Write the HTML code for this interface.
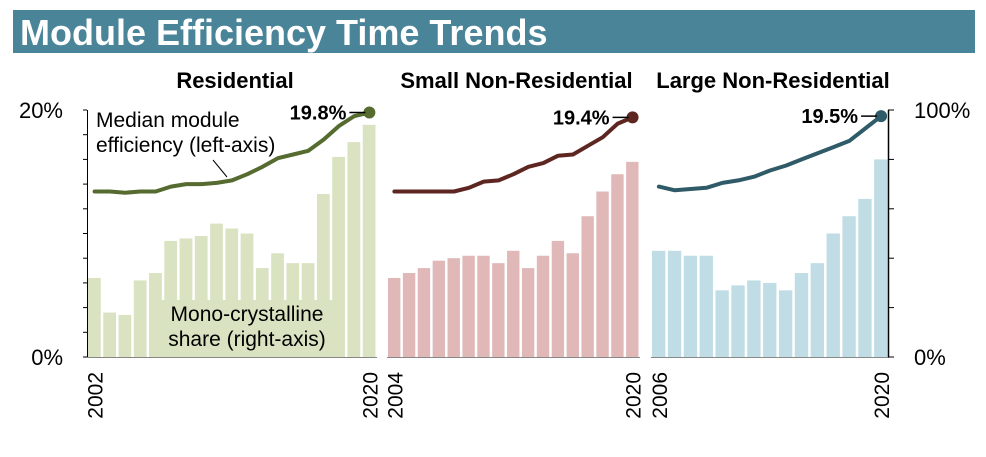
<!DOCTYPE html>
<html><head><meta charset="utf-8"><style>
body{margin:0;width:986px;height:452px;background:#fff;overflow:hidden;font-family:"Liberation Sans",Arial,sans-serif}
</style></head><body>
<svg width="986" height="452" xmlns="http://www.w3.org/2000/svg">
<rect x="13" y="10" width="962" height="43" fill="#4a8499"/>
<text x="20" y="45" font-size="36" font-weight="bold" fill="#fff" font-family="Liberation Sans, sans-serif">Module Efficiency Time Trends</text>
<g id="g"></g>
</svg>
<script>
const resYears=[2002,2020], smYears=[2004,2020], lgYears=[2006,2020];
const resShare=[32,18,17,31,34,47,48,49,54,52,50,36,42,38,38,66,81,87,94];
const resEff=[13.4,13.4,13.3,13.4,13.4,13.8,14.0,14.0,14.1,14.3,14.8,15.4,16.1,16.4,16.7,17.6,18.7,19.5,19.8];
const smShare=[32,34,36,39,40,41,41,38,43,36,41,47,42,57,67,74,79];
const smEff=[13.4,13.4,13.4,13.4,13.4,13.7,14.2,14.3,14.8,15.4,15.7,16.3,16.4,17.1,17.8,18.9,19.4];
const lgShare=[43,43,41,41,27,29,31,30,27,34,38,50,57,64,80];
const lgEff=[13.8,13.5,13.6,13.7,14.1,14.3,14.6,15.1,15.5,16.0,16.5,17.0,17.5,18.5,19.5];
const leftTicks=["0%","20%"], rightTicks=["0%","100%"];
const NS="http://www.w3.org/2000/svg", G=document.getElementById('g');
const Y0=357,Y1=110;
const yL=v=>Y0-(v/20)*(Y0-Y1), yR=v=>Y0-(v/100)*(Y0-Y1);
function el(t,a,txt){const e=document.createElementNS(NS,t);for(const k in a)e.setAttribute(k,a[k]);if(txt!==undefined)e.textContent=txt;G.appendChild(e);return e;}
const panels=[
 {name:"residential",title:"Residential",x0:87,x1:377,share:resShare,eff:resEff,yrs:resYears,bar:"#d9e3c1",line:"#556b2f",lab:"19.8%"},
 {name:"small-non-residential",title:"Small Non-Residential",x0:387,x1:640,share:smShare,eff:smEff,yrs:smYears,bar:"#e0b8b8",line:"#5e2620",lab:"19.4%"},
 {name:"large-non-residential",title:"Large Non-Residential",x0:651,x1:889,share:lgShare,eff:lgEff,yrs:lgYears,bar:"#c0dde6",line:"#2f5a68",lab:"19.5%"}];
panels.forEach(p=>{
 const n=p.share.length, w=(p.x1-p.x0)/n;
 const xc=i=>p.x0+w*(i+0.5);
 p.share.forEach((v,i)=>{
  const r=el('rect',{x:p.x0+w*i+1,y:yR(v),width:w-2.5,height:Y0-yR(v),fill:p.bar});
  
  
 });
 const l=el('line',{x1:p.x0,x2:p.x1,y1:Y0+0.5,y2:Y0+0.5,stroke:"#888",'stroke-width':1});
 
 const pts=p.eff.map((v,i)=>xc(i).toFixed(1)+','+yL(v).toFixed(1)).join(' ');
 const pl=el('polyline',{points:pts,fill:'none',stroke:p.line,'stroke-width':4,'stroke-linejoin':'round','stroke-linecap':'round'});
 
 const lx=xc(n-1), ly=yL(p.eff[n-1]);
 const c=el('circle',{cx:lx,cy:ly,r:6,fill:p.line});
 
 el('line',{x1:lx-20,x2:lx-4,y1:ly,y2:ly,stroke:'#000','stroke-width':1.5});
 const t=el('text',{x:lx-23,y:ly+7,'font-size':20,'font-weight':'bold','text-anchor':'end'},p.lab);
 
 const tt=el('text',{x:(p.x0+p.x1)/2+3,y:88,'font-size':22,'font-weight':'bold','text-anchor':'middle'},p.title);
 
 [[p.yrs[0],xc(0)],[p.yrs[1],xc(n-1)]].forEach(([yr,x])=>{
  const yt=el('text',{x:0,y:0,'font-size':21,'text-anchor':'end',transform:`translate(${x+8},${Y0+15}) rotate(-90)`},String(yr));
  
 });
});
const la=el('line',{x1:87.5,x2:87.5,y1:Y1,y2:Y0,stroke:'#000','stroke-width':1});

for(let i=0;i<=10;i++){el('line',{x1:83,x2:87,y1:yL(i*2),y2:yL(i*2),stroke:'#000'});}
leftTicks.forEach((s,i)=>{const t=el('text',{x:63,y:(i?yL(20):yL(0))+8,'font-size':22,'text-anchor':'end'},s);
 });
const ra=el('line',{x1:888.5,x2:888.5,y1:Y1,y2:Y0,stroke:'#000','stroke-width':1.5});

for(let i=0;i<=5;i++){el('line',{x1:888,x2:894,y1:yR(i*20),y2:yR(i*20),stroke:'#000'});}
rightTicks.forEach((s,i)=>{const t=el('text',{x:914,y:(i?yR(100):yR(0))+8,'font-size':22},s);
 });
const a1=el('text',{x:96,y:127,'font-size':21},'Median module');

el('text',{x:96,y:152,'font-size':21},'efficiency (left-axis)');
el('line',{x1:213,x2:227,y1:160,y2:177,stroke:'#000','stroke-width':1});
el('rect',{x:156,y:300,width:182,height:57,fill:'#d9e3c1'});
const a2=el('text',{x:247,y:321,'font-size':21,'text-anchor':'middle'},'Mono-crystalline');

el('text',{x:247,y:346,'font-size':21,'text-anchor':'middle'},'share (right-axis)');
</script>
</body></html>
